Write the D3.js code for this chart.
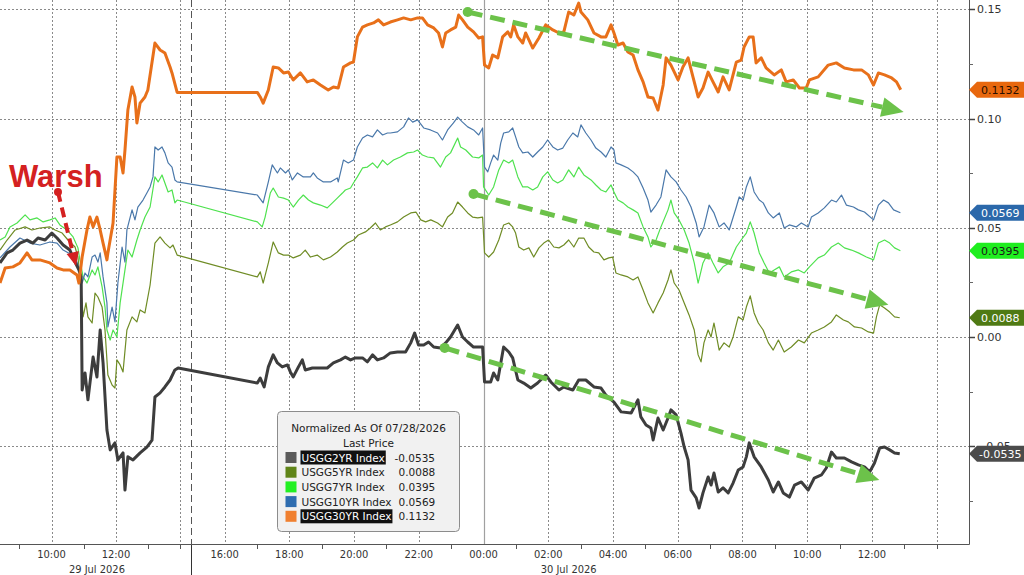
<!DOCTYPE html>
<html>
<head>
<meta charset="utf-8">
<script src="https://cdn.jsdelivr.net/npm/d3@7"></script>
<style>
  body { margin: 0; background: #fff; }
  svg { display: block; }
  .grid { stroke: #8a8a8a; stroke-width: 1; stroke-dasharray: 2,2; fill: none; }
  .axis-text { font-family: "DejaVu Sans", sans-serif; font-size: 11px; fill: #333; }
  .x-text { font-family: "DejaVu Sans Condensed", "Liberation Sans Narrow", "DejaVu Sans", sans-serif; font-size: 11px; fill: #333; }
  .legend-text { font-family: "DejaVu Sans", sans-serif; font-size: 10.5px; fill: #222; }
</style>
</head>
<body>
<div id="chart"></div>
<script>
// time = hours since 29 Jul 2026 00:00, value = normalized yield change
var usgg2 = [[8.40,0.0339],[8.62,0.0385],[8.80,0.0398],[9.02,0.0430],[9.24,0.0444],[9.42,0.0430],[9.58,0.0453],[9.80,0.0444],[10.01,0.0476],[10.17,0.0453],[10.36,0.0421],[10.57,0.0398],[10.73,0.0343],[10.85,0.0307],[10.92,0.0275],[10.95,-0.0243],[11.04,-0.0165],[11.13,-0.0288],[11.29,-0.0092],[11.41,-0.0183],[11.51,0.0032],[11.60,-0.0119],[11.72,-0.0426],[11.82,-0.0517],[11.97,-0.0485],[12.06,-0.0563],[12.22,-0.0531],[12.28,-0.0701],[12.37,-0.0549],[12.53,-0.0563],[12.75,-0.0531],[12.96,-0.0504],[13.12,-0.0472],[13.21,-0.0275],[13.37,-0.0256],[13.52,-0.0229],[13.68,-0.0197],[13.83,-0.0151],[13.93,-0.0142],
  [17.01,-0.0211],[17.10,-0.0188],[17.22,-0.0229],[17.35,-0.0137],[17.50,-0.0082],[17.63,-0.0119],[17.78,-0.0137],[17.94,-0.0128],[18.03,-0.0160],[18.12,-0.0183],[18.28,-0.0137],[18.40,-0.0105],[18.49,-0.0151],[18.71,-0.0142],[18.96,-0.0142],[19.17,-0.0142],[19.36,-0.0119],[19.58,-0.0105],[19.73,-0.0092],[19.89,-0.0105],[20.04,-0.0096],[20.26,-0.0096],[20.41,-0.0114],[20.57,-0.0082],[20.72,-0.0105],[20.91,-0.0096],[21.12,-0.0073],[21.34,-0.0069],[21.59,-0.0069],[21.75,-0.0027],[21.87,0.0018],[21.99,-0.0037],[22.15,-0.0037],[22.30,-0.0023],[22.46,-0.0046],[22.67,-0.0050],[22.83,-0.0027],[22.98,0.0000],[23.20,0.0055],[23.35,0.0000],[23.51,-0.0023],[23.69,-0.0046],[23.97,-0.0046],
  [24.03,-0.0206],[24.22,-0.0206],[24.31,-0.0165],[24.44,-0.0197],[24.62,-0.0046],[24.78,-0.0069],[24.90,-0.0096],[25.06,-0.0197],[25.24,-0.0211],[25.46,-0.0234],[25.67,-0.0211],[25.92,-0.0174],[26.08,-0.0206],[26.33,-0.0243],[26.48,-0.0229],[26.76,-0.0243],[26.94,-0.0197],[27.16,-0.0197],[27.41,-0.0229],[27.63,-0.0234],[27.78,-0.0266],[28.03,-0.0298],[28.25,-0.0343],[28.56,-0.0348],[28.77,-0.0288],[28.86,-0.0366],[29.02,-0.0403],[29.17,-0.0417],[29.24,-0.0472],[29.39,-0.0371],[29.55,-0.0426],[29.70,-0.0371],[29.79,-0.0334],[29.95,-0.0357],[30.10,-0.0440],[30.20,-0.0504],[30.32,-0.0563],[30.41,-0.0701],[30.57,-0.0737],[30.66,-0.0783],[30.78,-0.0714],[30.94,-0.0641],[31.03,-0.0678],[31.12,-0.0623],[31.25,-0.0710],[31.40,-0.0691],[31.56,-0.0714],[31.71,-0.0669],[31.87,-0.0609],[32.02,-0.0595],[32.12,-0.0549],[32.21,-0.0485],[32.36,-0.0549],[32.58,-0.0595],[32.80,-0.0655],[32.95,-0.0710],[33.11,-0.0664],[33.26,-0.0714],[33.45,-0.0733],[33.61,-0.0678],[33.82,-0.0664],[34.03,-0.0701],[34.22,-0.0646],[34.44,-0.0632],[34.59,-0.0600],[34.75,-0.0527],[34.90,-0.0554],[35.15,-0.0554],[35.37,-0.0572],[35.58,-0.0586],[35.77,-0.0595],[35.93,-0.0618],[36.08,-0.0577],[36.24,-0.0508],[36.39,-0.0504],[36.55,-0.0517],[36.70,-0.0531],[36.86,-0.0535]];

var usgg5 = [[8.40,0.0398],[8.62,0.0444],[8.87,0.0490],[9.18,0.0504],[9.39,0.0490],[9.64,0.0499],[9.95,0.0504],[10.11,0.0490],[10.33,0.0476],[10.51,0.0444],[10.73,0.0412],[10.82,0.0366],[10.95,0.0156],[10.98,0.0092],[11.07,0.0156],[11.13,0.0092],[11.26,0.0064],[11.35,0.0201],[11.44,0.0183],[11.57,0.0137],[11.66,0.0032],[11.75,-0.0174],[11.88,-0.0220],[11.97,-0.0234],[12.03,-0.0105],[12.13,-0.0128],[12.22,-0.0160],[12.34,0.0032],[12.50,0.0092],[12.65,0.0069],[12.75,0.0124],[12.90,0.0110],[13.06,0.0238],[13.21,0.0430],[13.37,0.0458],[13.52,0.0430],[13.68,0.0408],[13.77,0.0421],[13.90,0.0375],
  [17.01,0.0275],[17.10,0.0298],[17.19,0.0247],[17.35,0.0339],[17.50,0.0435],[17.66,0.0385],[17.82,0.0375],[17.97,0.0375],[18.12,0.0362],[18.34,0.0375],[18.49,0.0398],[18.65,0.0366],[18.86,0.0375],[19.05,0.0353],[19.27,0.0366],[19.48,0.0389],[19.64,0.0412],[19.79,0.0430],[19.98,0.0444],[20.13,0.0467],[20.35,0.0481],[20.50,0.0499],[20.66,0.0522],[20.81,0.0490],[20.97,0.0504],[21.12,0.0513],[21.34,0.0527],[21.53,0.0549],[21.75,0.0568],[21.91,0.0572],[22.06,0.0536],[22.21,0.0527],[22.37,0.0536],[22.58,0.0522],[22.73,0.0504],[22.89,0.0549],[23.04,0.0568],[23.20,0.0618],[23.35,0.0595],[23.51,0.0568],[23.66,0.0549],[23.82,0.0545],[23.97,0.0549],
  [24.03,0.0385],[24.16,0.0366],[24.31,0.0389],[24.47,0.0444],[24.62,0.0513],[24.78,0.0522],[24.90,0.0504],[24.99,0.0476],[25.09,0.0412],[25.24,0.0398],[25.40,0.0408],[25.55,0.0366],[25.71,0.0408],[25.86,0.0430],[26.01,0.0444],[26.17,0.0412],[26.33,0.0408],[26.48,0.0421],[26.63,0.0444],[26.79,0.0412],[26.94,0.0453],[27.10,0.0453],[27.25,0.0412],[27.41,0.0389],[27.56,0.0385],[27.72,0.0353],[27.87,0.0362],[27.99,0.0366],[28.09,0.0293],[28.25,0.0284],[28.46,0.0275],[28.62,0.0261],[28.77,0.0275],[28.93,0.0215],[29.08,0.0156],[29.24,0.0110],[29.39,0.0156],[29.55,0.0201],[29.70,0.0261],[29.79,0.0307],[29.89,0.0247],[30.04,0.0215],[30.20,0.0156],[30.35,0.0101],[30.51,0.0032],[30.63,-0.0082],[30.72,-0.0114],[30.81,-0.0027],[30.94,0.0032],[31.03,0.0000],[31.12,0.0064],[31.28,-0.0060],[31.43,-0.0027],[31.59,-0.0046],[31.71,0.0000],[31.87,0.0092],[32.02,0.0078],[32.12,0.0137],[32.24,0.0188],[32.36,0.0110],[32.49,0.0064],[32.64,0.0032],[32.80,-0.0027],[32.95,-0.0060],[33.11,-0.0014],[33.29,-0.0069],[33.51,-0.0046],[33.73,-0.0014],[33.91,-0.0027],[34.13,0.0018],[34.34,0.0032],[34.53,0.0046],[34.75,0.0069],[34.90,0.0101],[35.12,0.0078],[35.27,0.0069],[35.46,0.0046],[35.68,0.0041],[35.89,0.0023],[36.05,0.0018],[36.14,0.0092],[36.24,0.0147],[36.39,0.0133],[36.55,0.0114],[36.70,0.0092],[36.86,0.0088]];

var usgg7 = [[8.40,0.0444],[8.56,0.0458],[8.71,0.0504],[8.93,0.0522],[9.18,0.0559],[9.33,0.0536],[9.55,0.0545],[9.74,0.0527],[9.95,0.0536],[10.11,0.0545],[10.26,0.0513],[10.48,0.0490],[10.67,0.0458],[10.82,0.0408],[10.88,0.0353],[10.98,0.0275],[11.10,0.0247],[11.26,0.0307],[11.35,0.0284],[11.44,0.0321],[11.57,0.0229],[11.66,0.0137],[11.72,0.0032],[11.82,-0.0014],[11.91,0.0032],[12.03,0.0000],[12.13,0.0156],[12.28,0.0307],[12.37,0.0398],[12.50,0.0366],[12.65,0.0444],[12.75,0.0490],[12.90,0.0549],[13.06,0.0595],[13.21,0.0733],[13.31,0.0710],[13.43,0.0742],[13.52,0.0705],[13.62,0.0664],[13.74,0.0673],[13.83,0.0614],[13.90,0.0627],
  [17.01,0.0527],[17.16,0.0504],[17.25,0.0549],[17.41,0.0659],[17.50,0.0682],[17.66,0.0641],[17.82,0.0636],[17.97,0.0627],[18.12,0.0595],[18.28,0.0627],[18.43,0.0650],[18.59,0.0627],[18.74,0.0614],[18.96,0.0604],[19.17,0.0591],[19.33,0.0614],[19.48,0.0636],[19.64,0.0659],[19.73,0.0673],[19.89,0.0682],[19.98,0.0705],[20.10,0.0733],[20.26,0.0774],[20.41,0.0778],[20.57,0.0797],[20.72,0.0774],[20.88,0.0810],[21.03,0.0788],[21.22,0.0810],[21.43,0.0824],[21.65,0.0843],[21.84,0.0847],[21.96,0.0856],[22.11,0.0833],[22.27,0.0824],[22.46,0.0820],[22.67,0.0778],[22.83,0.0824],[22.98,0.0843],[23.20,0.0911],[23.29,0.0870],[23.45,0.0856],[23.66,0.0824],[23.85,0.0820],[23.97,0.0833],
  [24.00,0.0687],[24.16,0.0650],[24.31,0.0687],[24.47,0.0765],[24.62,0.0810],[24.78,0.0797],[24.90,0.0810],[25.06,0.0733],[25.21,0.0687],[25.37,0.0687],[25.52,0.0673],[25.67,0.0687],[25.83,0.0733],[25.98,0.0756],[26.14,0.0719],[26.29,0.0705],[26.45,0.0719],[26.63,0.0765],[26.79,0.0733],[26.94,0.0778],[27.10,0.0742],[27.32,0.0719],[27.47,0.0696],[27.63,0.0673],[27.78,0.0664],[27.94,0.0696],[28.03,0.0664],[28.15,0.0627],[28.31,0.0614],[28.46,0.0595],[28.62,0.0582],[28.77,0.0568],[28.93,0.0504],[29.08,0.0458],[29.17,0.0412],[29.33,0.0444],[29.48,0.0504],[29.70,0.0582],[29.79,0.0627],[29.89,0.0568],[30.04,0.0536],[30.20,0.0490],[30.35,0.0430],[30.51,0.0339],[30.63,0.0247],[30.78,0.0339],[30.94,0.0385],[31.09,0.0339],[31.25,0.0293],[31.40,0.0321],[31.59,0.0339],[31.81,0.0412],[31.96,0.0444],[32.12,0.0476],[32.24,0.0527],[32.36,0.0476],[32.52,0.0385],[32.67,0.0339],[32.83,0.0293],[32.98,0.0307],[33.14,0.0321],[33.29,0.0275],[33.51,0.0298],[33.73,0.0307],[33.91,0.0293],[34.07,0.0321],[34.34,0.0362],[34.53,0.0375],[34.75,0.0412],[34.96,0.0430],[35.15,0.0408],[35.37,0.0398],[35.58,0.0385],[35.83,0.0366],[36.05,0.0353],[36.20,0.0430],[36.39,0.0444],[36.55,0.0430],[36.70,0.0408],[36.88,0.0395]];

var usgg10 = [[8.40,0.0362],[8.71,0.0412],[9.02,0.0453],[9.33,0.0430],[9.64,0.0421],[9.95,0.0435],[10.17,0.0430],[10.36,0.0398],[10.64,0.0375],[10.79,0.0343],[10.88,0.0307],[10.95,0.0247],[11.04,0.0293],[11.13,0.0275],[11.26,0.0366],[11.35,0.0375],[11.44,0.0343],[11.51,0.0385],[11.60,0.0275],[11.72,0.0156],[11.75,0.0046],[11.88,0.0137],[11.97,0.0069],[12.06,0.0247],[12.19,0.0412],[12.28,0.0343],[12.34,0.0490],[12.50,0.0582],[12.59,0.0536],[12.68,0.0595],[12.84,0.0627],[12.96,0.0659],[13.06,0.0687],[13.15,0.0733],[13.21,0.0870],[13.31,0.0856],[13.43,0.0870],[13.52,0.0843],[13.62,0.0797],[13.74,0.0778],[13.83,0.0719],[13.90,0.0710],
  [17.01,0.0650],[17.19,0.0614],[17.35,0.0710],[17.47,0.0788],[17.63,0.0751],[17.72,0.0774],[17.88,0.0751],[17.97,0.0765],[18.09,0.0719],[18.25,0.0751],[18.43,0.0733],[18.65,0.0733],[18.74,0.0751],[18.86,0.0728],[19.05,0.0710],[19.27,0.0710],[19.48,0.0728],[19.51,0.0710],[19.67,0.0810],[19.82,0.0797],[19.98,0.0810],[20.10,0.0870],[20.26,0.0911],[20.41,0.0925],[20.57,0.0916],[20.72,0.0948],[20.88,0.0925],[21.03,0.0934],[21.12,0.0934],[21.34,0.0939],[21.53,0.0962],[21.68,0.1003],[21.81,0.0984],[21.96,0.0994],[22.15,0.0957],[22.36,0.0948],[22.58,0.0934],[22.73,0.0902],[22.89,0.0948],[23.07,0.0980],[23.20,0.1007],[23.35,0.0984],[23.51,0.0962],[23.69,0.0948],[23.85,0.0925],[23.97,0.0957],
  [24.03,0.0778],[24.13,0.0756],[24.22,0.0797],[24.31,0.0833],[24.44,0.0810],[24.53,0.0888],[24.62,0.0934],[24.78,0.0939],[24.90,0.0957],[24.99,0.0916],[25.09,0.0870],[25.21,0.0843],[25.37,0.0847],[25.52,0.0824],[25.67,0.0847],[25.83,0.0870],[25.98,0.0902],[26.14,0.0870],[26.29,0.0856],[26.45,0.0865],[26.60,0.0902],[26.76,0.0934],[26.91,0.0916],[27.01,0.0971],[27.16,0.0934],[27.32,0.0902],[27.47,0.0865],[27.63,0.0847],[27.78,0.0824],[27.94,0.0870],[28.03,0.0856],[28.09,0.0797],[28.25,0.0788],[28.46,0.0774],[28.62,0.0756],[28.77,0.0733],[28.93,0.0682],[29.08,0.0627],[29.17,0.0572],[29.33,0.0604],[29.48,0.0641],[29.64,0.0765],[29.79,0.0733],[29.95,0.0710],[30.10,0.0673],[30.26,0.0641],[30.41,0.0595],[30.57,0.0522],[30.66,0.0458],[30.81,0.0504],[30.97,0.0604],[31.12,0.0568],[31.28,0.0504],[31.43,0.0522],[31.59,0.0490],[31.81,0.0595],[31.90,0.0641],[32.02,0.0627],[32.12,0.0687],[32.24,0.0733],[32.36,0.0664],[32.52,0.0627],[32.64,0.0614],[32.80,0.0568],[32.95,0.0545],[33.14,0.0568],[33.29,0.0499],[33.45,0.0513],[33.66,0.0504],[33.82,0.0522],[34.03,0.0504],[34.13,0.0549],[34.34,0.0568],[34.53,0.0591],[34.75,0.0627],[34.90,0.0618],[35.06,0.0650],[35.21,0.0604],[35.43,0.0595],[35.58,0.0582],[35.77,0.0572],[36.05,0.0536],[36.20,0.0604],[36.36,0.0627],[36.51,0.0614],[36.67,0.0582],[36.88,0.0569]];

var usgg30 = [[8.40,0.0247],[8.56,0.0316],[8.80,0.0321],[9.02,0.0339],[9.24,0.0385],[9.39,0.0353],[9.64,0.0353],[9.95,0.0339],[10.17,0.0316],[10.36,0.0307],[10.57,0.0307],[10.79,0.0284],[10.85,0.0247],[10.95,0.0366],[11.10,0.0490],[11.19,0.0549],[11.29,0.0504],[11.41,0.0549],[11.51,0.0490],[11.60,0.0430],[11.72,0.0353],[11.75,0.0385],[11.91,0.0522],[12.03,0.0824],[12.13,0.0824],[12.22,0.0751],[12.28,0.0856],[12.37,0.1039],[12.50,0.1145],[12.59,0.1099],[12.65,0.0980],[12.75,0.1071],[12.90,0.1099],[12.99,0.1131],[13.21,0.1346],[13.37,0.1314],[13.52,0.1300],[13.68,0.1236],[13.74,0.1209],[13.90,0.1120],
  [17.01,0.1120],[17.10,0.1099],[17.19,0.1071],[17.35,0.1131],[17.50,0.1236],[17.66,0.1232],[17.82,0.1209],[17.97,0.1213],[18.12,0.1177],[18.34,0.1209],[18.55,0.1168],[18.74,0.1177],[18.96,0.1154],[19.20,0.1131],[19.36,0.1145],[19.51,0.1140],[19.67,0.1236],[19.89,0.1255],[19.98,0.1259],[20.10,0.1374],[20.26,0.1419],[20.41,0.1429],[20.60,0.1438],[20.75,0.1452],[20.91,0.1429],[21.12,0.1442],[21.34,0.1452],[21.53,0.1461],[21.75,0.1452],[21.96,0.1461],[22.11,0.1461],[22.27,0.1429],[22.46,0.1415],[22.61,0.1392],[22.73,0.1328],[22.83,0.1392],[22.98,0.1406],[23.14,0.1419],[23.23,0.1474],[23.35,0.1452],[23.51,0.1419],[23.69,0.1397],[23.85,0.1369],[23.97,0.1374],
  [24.03,0.1245],[24.16,0.1232],[24.28,0.1291],[24.44,0.1278],[24.59,0.1374],[24.75,0.1397],[24.84,0.1374],[24.93,0.1429],[25.06,0.1374],[25.21,0.1346],[25.30,0.1392],[25.52,0.1323],[25.71,0.1369],[25.92,0.1429],[26.14,0.1406],[26.33,0.1392],[26.48,0.1397],[26.63,0.1488],[26.79,0.1474],[26.94,0.1529],[27.01,0.1488],[27.22,0.1452],[27.41,0.1392],[27.63,0.1374],[27.78,0.1374],[27.94,0.1429],[28.03,0.1392],[28.15,0.1337],[28.31,0.1346],[28.46,0.1305],[28.62,0.1291],[28.77,0.1223],[28.93,0.1168],[29.08,0.1099],[29.24,0.1094],[29.39,0.1039],[29.55,0.1154],[29.64,0.1278],[29.79,0.1245],[30.01,0.1177],[30.16,0.1236],[30.32,0.1278],[30.47,0.1191],[30.63,0.1099],[30.78,0.1140],[30.94,0.1213],[31.09,0.1168],[31.25,0.1122],[31.40,0.1191],[31.59,0.1131],[31.81,0.1259],[31.96,0.1268],[32.05,0.1328],[32.21,0.1374],[32.33,0.1374],[32.42,0.1255],[32.58,0.1278],[32.73,0.1232],[32.98,0.1200],[33.20,0.1223],[33.35,0.1168],[33.57,0.1177],[33.76,0.1140],[33.97,0.1140],[34.07,0.1177],[34.34,0.1191],[34.65,0.1245],[34.90,0.1255],[35.15,0.1232],[35.43,0.1223],[35.68,0.1223],[35.89,0.1200],[36.05,0.1154],[36.20,0.1209],[36.39,0.1200],[36.61,0.1186],[36.76,0.1168],[36.89,0.1132]];

var seriesNames = ["USGG2YR Index", "USGG5YR Index", "USGG7YR Index", "USGG10YR Index", "USGG30YR Index"];
var lastPrices = ["-0.0535", "0.0088", "0.0395", "0.0569", "0.1132"];
var highlighted = [true, false, false, false, true];

// x axis: hour ticks (29 Jul 00:00 = 0)
var labelHours = [10, 12, 16, 18, 20, 22, 24, 26, 28, 30, 32, 34, 36];
var gridHours = [10, 12, 14, 16, 18, 20, 22, 26, 28, 30, 32, 34, 36, 38];
var dayBreakHour = 24;
var minorHours = [9, 11, 13, 14, 17, 19, 21, 23, 25, 27, 29, 31, 33, 35, 37, 38];
var dateLabels = [{text: "29 Jul 2026", t: 11.41}, {text: "30 Jul 2026", t: 26.63}];

var yMajor = [-0.05, 0, 0.05, 0.10, 0.15];
var yMinor = [-0.075, -0.025, 0.025, 0.075, 0.125];

// trend arrows [start, end] as [hour, value]
var trendArrows = [
  [[23.51, 0.1488], [36.98, 0.1030]],
  [[23.69, 0.0655], [36.51, 0.0147]],
  [[22.80, -0.0050], [36.23, -0.0655]]
];
var warshArrow = [[10.20, 0.0664], [10.76, 0.0325]];
var warshText = {text: "Warsh", t: 8.68, v: 0.0687};

var W = 1024, H = 575;
var plotRight = 969, plotBottom = 544;

var svg = d3.select("#chart").append("svg")
    .attr("width", W)
    .attr("height", H);

// piecewise scale: the trading gap after the 29 Jul session collapses onto the break line
var x = d3.scaleLinear()
    .domain([8.4, 14.33, 14.96, 39.0])
    .range([0, 191, 191, plotRight]);

var y = d3.scaleLinear()
    .domain([-0.0948, 0.1543])
    .range([plotBottom, 0]);

var breakX = x(14.33);

// grid
svg.append("g").selectAll("line")
  .data(yMajor)
  .enter().append("line")
    .attr("class", "grid")
    .attr("x1", 0).attr("x2", plotRight)
    .attr("y1", d => Math.round(y(d)) + 0.5)
    .attr("y2", d => Math.round(y(d)) + 0.5);

svg.append("g").selectAll("line")
  .data(gridHours)
  .enter().append("line")
    .attr("class", "grid")
    .attr("x1", d => Math.round(x(d)) + 0.5)
    .attr("x2", d => Math.round(x(d)) + 0.5)
    .attr("y1", 0).attr("y2", plotBottom);

svg.append("line")
    .attr("x1", Math.round(x(dayBreakHour)) + 0.5)
    .attr("x2", Math.round(x(dayBreakHour)) + 0.5)
    .attr("y1", 0).attr("y2", plotBottom)
    .attr("stroke", "#a0a0a0").attr("stroke-width", 1.2);

svg.append("line")
    .attr("x1", breakX + 0.5).attr("x2", breakX + 0.5)
    .attr("y1", 0).attr("y2", plotBottom)
    .attr("stroke", "#555").attr("stroke-width", 1)
    .attr("stroke-dasharray", "7,4");

svg.append("line")
    .attr("x1", breakX + 0.5).attr("x2", breakX + 0.5)
    .attr("y1", plotBottom).attr("y2", H)
    .attr("stroke", "#333").attr("stroke-width", 1);

// series lines
var series = [
  {data: usgg5, color: "#6f8c25", width: 1.2},
  {data: usgg7, color: "#4fe24f", width: 1.2},
  {data: usgg10, color: "#4a78aa", width: 1.2},
  {data: usgg2, color: "#3d3d3d", width: 3},
  {data: usgg30, color: "#e8701a", width: 3}
];

var line = d3.line()
    .x(d => x(d[0]))
    .y(d => y(d[1]));

svg.append("g").selectAll("path")
  .data(series)
  .enter().append("path")
    .attr("d", d => line(d.data))
    .attr("fill", "none")
    .attr("stroke", d => d.color)
    .attr("stroke-width", d => d.width)
    .attr("stroke-linejoin", "round");

// trend arrows
var green = "#6cc24a";
function arrow(g, pts, color, width, dash, head, dot) {
  var x1 = x(pts[0][0]), y1 = y(pts[0][1]), x2 = x(pts[1][0]), y2 = y(pts[1][1]);
  var a = Math.atan2(y2 - y1, x2 - x1);
  var bx = x2 - head * Math.cos(a), by = y2 - head * Math.sin(a);
  g.append("line")
      .attr("x1", x1).attr("y1", y1).attr("x2", bx).attr("y2", by)
      .attr("stroke", color).attr("stroke-width", width)
      .attr("stroke-dasharray", dash);
  g.append("circle").attr("cx", x1).attr("cy", y1).attr("r", dot).attr("fill", color);
  var hw = head * 0.45;
  g.append("path")
      .attr("d", "M" + x2 + "," + y2 +
        "L" + (bx + hw * Math.sin(a)) + "," + (by - hw * Math.cos(a)) +
        "L" + (bx - hw * Math.sin(a)) + "," + (by + hw * Math.cos(a)) + "Z")
      .attr("fill", color);
}

var ann = svg.append("g");
trendArrows.forEach(p => arrow(ann, p, green, 5, "15,8", 22, 5));
arrow(ann, warshArrow, "#d42121", 4, "10,6", 14, 4);

ann.append("text")
    .attr("x", x(warshText.t))
    .attr("y", y(warshText.v))
    .attr("font-family", "Liberation Sans, Arial, sans-serif")
    .attr("font-weight", "bold")
    .attr("font-size", 31)
    .attr("fill", "#d42121")
    .text(warshText.text);

// axes frame
svg.append("line")
    .attr("x1", 0).attr("x2", plotRight + 0.5)
    .attr("y1", plotBottom + 0.5).attr("y2", plotBottom + 0.5)
    .attr("stroke", "#555");
svg.append("line")
    .attr("x1", plotRight + 0.5).attr("x2", plotRight + 0.5)
    .attr("y1", 0).attr("y2", plotBottom + 0.5)
    .attr("stroke", "#555");

// x ticks and labels
svg.append("g").selectAll("line")
  .data(minorHours)
  .enter().append("line")
    .attr("x1", d => Math.round(x(d)) + 0.5)
    .attr("x2", d => Math.round(x(d)) + 0.5)
    .attr("y1", plotBottom).attr("y2", plotBottom + 5)
    .attr("stroke", "#555");

svg.append("g").selectAll("text")
  .data(labelHours)
  .enter().append("text")
    .attr("class", "x-text")
    .attr("x", d => x(d))
    .attr("y", plotBottom + 14)
    .attr("text-anchor", "middle")
    .text(d => String(d % 24).padStart(2, "0") + ":00");

svg.append("g").selectAll("text")
  .data(dateLabels)
  .enter().append("text")
    .attr("class", "x-text")
    .attr("x", d => x(d.t))
    .attr("y", plotBottom + 29)
    .attr("text-anchor", "middle")
    .text(d => d.text);

// y ticks and labels (right); the -0.05 label sits mostly under the 2YR tag, as in the source
svg.append("g").selectAll("line")
  .data(yMajor)
  .enter().append("line")
    .attr("x1", plotRight).attr("x2", plotRight + 6)
    .attr("y1", d => Math.round(y(d)) + 0.5)
    .attr("y2", d => Math.round(y(d)) + 0.5)
    .attr("stroke", "#444").attr("stroke-width", 1.5);

svg.append("g").selectAll("line")
  .data(yMinor)
  .enter().append("line")
    .attr("x1", plotRight).attr("x2", plotRight + 4)
    .attr("y1", d => Math.round(y(d)) + 0.5)
    .attr("y2", d => Math.round(y(d)) + 0.5)
    .attr("stroke", "#666");

svg.append("g").selectAll("text")
  .data(yMajor)
  .enter().append("text")
    .attr("class", "axis-text")
    .attr("x", plotRight + 8)
    .attr("y", d => y(d) + 4)
    .text(d => d3.format(".2f")(d));

// last value tags
var tagStyle = [
  {fill: "#4b4b4b", text: "#fff"},
  {fill: "#4f7a14", text: "#fff"},
  {fill: "#1fee1f", text: "#1a1a1a"},
  {fill: "#2b68aa", text: "#fff"},
  {fill: "#e8680e", text: "#2a1000"}
];
var lastData = [usgg2, usgg5, usgg7, usgg10, usgg30];

var tags = svg.append("g").selectAll("g")
  .data(lastData)
  .enter().append("g")
    .attr("transform", (d, i) => "translate(" + plotRight + "," + y(+lastPrices[i]) + ")");

tags.append("path")
    .attr("d", "M0,0L8,-8H" + (W - plotRight) + "V8H8Z")
    .attr("fill", (d, i) => tagStyle[i].fill);

tags.append("text")
    .attr("class", "axis-text")
    .attr("x", (d, i) => i === 0 ? 10 : 12)
    .attr("y", 4)
    .style("fill", (d, i) => tagStyle[i].text)
    .text((d, i) => lastPrices[i]);

// legend
var lg = svg.append("g").attr("transform", "translate(277.5,411.5)");
lg.append("rect")
    .attr("width", 182).attr("height", 120)
    .attr("rx", 4)
    .attr("fill", "#f1f1f1")
    .attr("stroke", "#8c8c8c");
lg.append("text").attr("class", "legend-text")
    .attr("x", 91).attr("y", 20).attr("text-anchor", "middle")
    .text("Normalized As Of 07/28/2026");
lg.append("text").attr("class", "legend-text")
    .attr("x", 91).attr("y", 35).attr("text-anchor", "middle")
    .text("Last Price");

var swatch = ["#5a5a5a", "#5f8418", "#22f022", "#2f6db0", "#f08030"];
var rows = lg.selectAll(".row")
  .data(seriesNames)
  .enter().append("g")
    .attr("class", "row")
    .attr("transform", (d, i) => "translate(0," + (46 + i * 14.7) + ")");

rows.append("rect")
    .attr("x", 8).attr("y", -5.5).attr("width", 11).attr("height", 11)
    .attr("fill", (d, i) => swatch[i]);

var hl = rows.filter((d, i) => highlighted[i]).append("rect")
    .attr("x", 23).attr("y", -7).attr("height", 14)
    .attr("fill", "#111");

var names = rows.append("text")
    .attr("class", "legend-text")
    .attr("x", 24).attr("y", 4)
    .style("fill", (d, i) => highlighted[i] ? "#fff" : "#222")
    .text(d => d);

// size highlight boxes to their text
names.each(function(d, i) {
  if (!highlighted[i]) return;
  var w = this.getComputedTextLength();
  d3.select(this.parentNode).select("rect:nth-of-type(2)").attr("width", w + 2);
});

rows.append("text")
    .attr("class", "legend-text")
    .attr("x", (d, i) => i === 0 ? 117 : 121)
    .attr("y", 4)
    .text((d, i) => lastPrices[i]);
</script>
</body>
</html>
